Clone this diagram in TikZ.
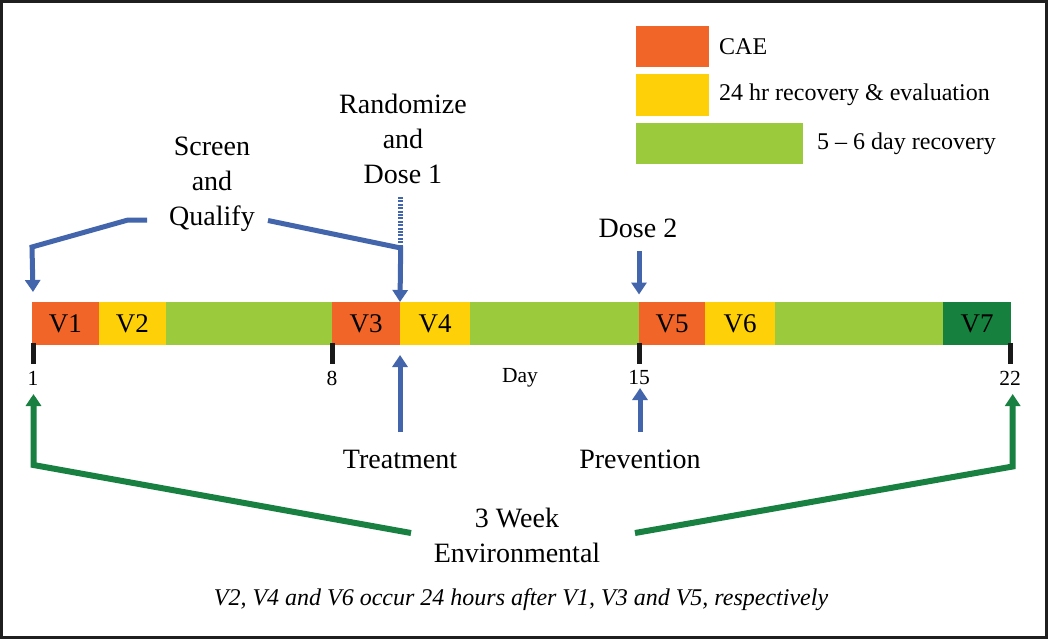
\documentclass[tikz,border=0pt]{standalone}
\usepackage{fontspec}
\setmainfont{Liberation Serif}
\usetikzlibrary{arrows.meta}
\definecolor{cae}{RGB}{241,101,41}
\definecolor{rec}{RGB}{253,208,8}
\definecolor{lgr}{RGB}{155,202,60}
\definecolor{dgr}{RGB}{22,128,62}
\definecolor{bl}{RGB}{66,101,172}
\definecolor{ag}{RGB}{24,128,64}
\tikzset{
  seg/.style={rectangle, inner sep=0pt, minimum height=43pt, anchor=north west,
    font=\fontsize{27}{30}\selectfont},
  legbox/.style={rectangle, inner sep=0pt, anchor=north west},
  legtext/.style={anchor=west, inner sep=0pt, font=\fontsize{24}{28}\selectfont},
  big/.style={align=center, inner sep=0pt, font=\fontsize{28}{35}\selectfont},
  small/.style={inner sep=0pt, font=\fontsize{21.5}{24}\selectfont},
  tickmark/.style={line width=5pt, black!90},
  barrow/.style={draw=bl, line width=5pt, -{Triangle[length=12pt,width=15pt]}},
  garrow/.style={draw=ag, line width=6pt, -{Triangle[length=12pt,width=15pt]}},
}
\begin{document}
\begin{tikzpicture}[x=1pt,y=-1pt]
\useasboundingbox (0,0) rectangle (1048,639);
\fill[white] (0,0) rectangle (1048,639);
\draw[line width=3pt, black!88] (1.5,1.5) rectangle (1046,637);

% legend
\node[legbox, fill=cae, minimum width=73pt, minimum height=41pt] (lc) at (636,26) {};
\node[legbox, fill=rec, minimum width=73pt, minimum height=42pt] (ly) at (636,74) {};
\node[legbox, fill=lgr, minimum width=167pt, minimum height=41pt] (lg) at (636,123) {};
\node[legtext] (tc) at (719,46.5) {CAE};
\node[legtext] (ty) at (719,94.5) {24 hr recovery \& evaluation};
\node[legtext] (tg) at (817,143.5) {5 -- 6 day recovery};

% bar
\node[seg, fill=cae, minimum width=66.8pt] (v1) at (31.7,302) {V1};
\node[seg, fill=rec, minimum width=67.5pt] (v2) at (98.5,302) {V2};
\node[seg, fill=lgr, minimum width=166pt] (g1) at (166,302) {};
\node[seg, fill=cae, minimum width=68pt] (v3) at (332,302) {V3};
\node[seg, fill=rec, minimum width=70pt] (v4) at (400,302) {V4};
\node[seg, fill=lgr, minimum width=169pt] (g2) at (470,302) {};
\node[seg, fill=cae, minimum width=66pt] (v5) at (639,302) {V5};
\node[seg, fill=rec, minimum width=70pt] (v6) at (705,302) {V6};
\node[seg, fill=lgr, minimum width=168pt] (g3) at (775,302) {};
\node[seg, fill=dgr, minimum width=68pt] (v7) at (943,302) {V7};

% ticks
\draw[tickmark] (33,343) -- (33,364);
\draw[tickmark] (332,343) -- (332,364);
\draw[tickmark] (639,343) -- (639,364);
\draw[tickmark] (1010,343) -- (1010,364);
\node[small] (d1) at (33,378) {1};
\node[small] (d8) at (332,378) {8};
\node[small] (dday) at (520,378) {Day};
\node[small] (d15) at (639,378) {15};
\node[small] (d22) at (1010,378) {22};

% labels
\node[big] (screen) at (212,184) {Screen\\and\\Qualify};
\node[big] (rand) at (403,139) {Randomize\\and\\Dose 1};
\node[big] (dose2) at (638,228) {Dose 2};
\node[big] (treat) at (400,459) {Treatment};
\node[big] (prev) at (640,459) {Prevention};
\node[big] (env) at (517,535) {3 Week\\Environmental};
\node[inner sep=0pt, font=\fontsize{24}{28}\selectfont\itshape] (cap) at (521,600)
  {V2, V4 and V6 occur 24 hours after V1, V3 and V5, respectively};

% blue connectors
\coordinate (sqa) at (147,220);
\coordinate (sqb) at (268,220.5);
\coordinate (v1top) at (33,292);
\coordinate (dotTop) at (400.7,197);
\coordinate (dotBot) at (400.7,245);
\coordinate (d2s) at (639,251);
\coordinate (v5top) at (639,294.5);
\coordinate (trs) at (400,432);
\coordinate (trt) at (400,355);
\coordinate (prs) at (640,432);
\coordinate (prt) at (640,388);
\draw[barrow] (sqa) -- (128,220) -- (32,247) -- (v1top);
\draw[barrow] (sqb) -- (400.7,248) -- (v4.north west);
\draw[draw=bl, line width=5pt, dash pattern=on 2pt off 1.4pt] (dotTop) -- (dotBot);
\draw[barrow] (d2s) -- (v5top);
\draw[barrow] (trs) -- (trt);
\draw[barrow] (prs) -- (prt);

% green connectors
\coordinate (envL) at (411,533);
\coordinate (envR) at (635,533);
\coordinate (gl) at (33.5,394);
\coordinate (gr) at (1012.7,394);
\draw[garrow] (envL) -- (33.5,465) -- (gl);
\draw[garrow] (envR) -- (1012.7,466.5) -- (gr);
\end{tikzpicture}
\end{document}
